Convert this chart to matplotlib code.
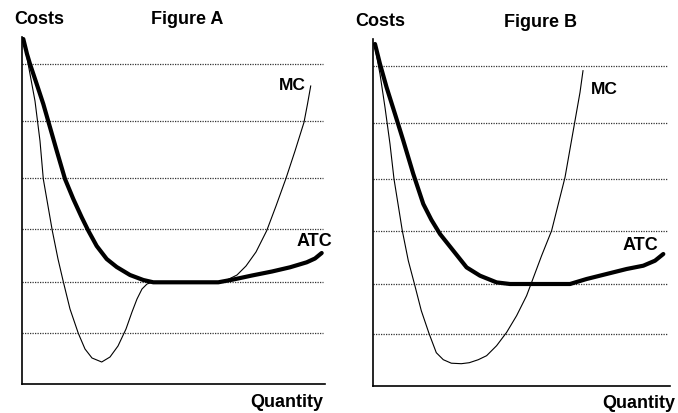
import matplotlib.pyplot as plt

# Figure A (x = quantity, y = cost, arbitrary units)
atc_a_x = [1.3, 5, 8, 14.7, 21.3, 28, 34.7, 43, 51.3, 59.7, 66.3, 74.7, 84.7, 94.7, 108,
           121.3, 131.3, 196.3, 211.3, 230, 250, 268, 284.7, 293, 299.7]
atc_a_y = [345, 330, 320, 300, 280, 256.7, 233.3, 205, 185, 166.7, 153.3, 138, 125, 117, 109,
           104, 101.7, 101.7, 104.5, 108.5, 112.5, 116.7, 121.7, 125.5, 131]
mc_a_x = [3, 8, 13, 18, 21.3, 26, 30.3, 36, 41.3, 48, 56.3, 63, 70, 79.7, 88, 96, 104, 110,
          115, 120, 125, 130, 196.3, 205, 215, 224, 234, 244.7, 254, 264, 273, 282, 285.5,
          288.7]
mc_a_y = [337, 310, 283, 243, 205, 178, 153.3, 125, 102.3, 75, 50.7, 35, 26, 22, 27, 38, 55,
          72, 85, 95, 100, 101.7, 101.7, 104, 109, 118, 132, 153.3, 178, 205.7, 233, 261.7,
          280, 298]

# Figure B
atc_b_x = [1.7, 6.7, 13.3, 21.7, 30, 40, 50, 58, 66.7, 80, 93.3, 106.7, 123.3, 136.7,
           196.7, 213.3, 233.3, 253.3, 270, 281.7, 290]
atc_b_y = [341.7, 321.7, 298.3, 271.7, 245, 211.7, 181.7, 166, 151.7, 135, 118.3, 110, 103.3,
           101.7, 101.7, 106.7, 111.7, 116.7, 120, 125, 131.7]
mc_b_x = [1.7, 6.7, 11.7, 16.7, 20.7, 25, 29, 35, 41, 48, 55.7, 63, 70, 78, 88, 96, 105,
          113.3, 123.3, 133.3, 143.3, 153.3, 158.3, 168.3, 178.3, 185, 191.7, 196.7, 201.7,
          206.7, 209.7]
mc_b_y = [338.3, 311.7, 278.3, 241.7, 206.7, 180, 155, 125, 102.3, 75, 52.3, 33, 26, 22.5,
          22, 23, 26, 30, 40, 53.3, 70, 90, 103.3, 130, 155, 181.7, 208.3, 236.7, 265, 293.3,
          315]

grid_levels = [51.5, 101.7, 155, 206.5, 263, 320]

W, H = 678, 414
fig = plt.figure(figsize=(W / 100, H / 100), dpi=100)
fig.patch.set_facecolor("white")


def panel(rect, xmax, atc_x, atc_y, mc_x, mc_y, mc_lab, atc_lab):
    ax = fig.add_axes(rect)
    ax.set_xlim(0, xmax)
    ax.set_ylim(0, 347)
    for y in grid_levels:
        ax.plot([0, xmax - 2], [y, y], color="#333333", lw=0.9, linestyle=(0, (1, 1)))
    ax.plot(mc_x, mc_y, color="black", lw=0.8)
    ax.plot(atc_x, atc_y, color="black", lw=3.0, solid_capstyle="round",
            solid_joinstyle="round")
    for s in ["top", "right"]:
        ax.spines[s].set_visible(False)
    for s in ["left", "bottom"]:
        ax.spines[s].set_linewidth(1.2)
    ax.set_xticks([])
    ax.set_yticks([])
    ax.patch.set_alpha(0)
    ax.text(mc_lab[0], mc_lab[1], "MC", fontsize=12.5, fontweight="bold",
            ha="center", va="center", family="Liberation Sans", clip_on=False)
    ax.text(atc_lab[0], atc_lab[1], "ATC", fontsize=13, fontweight="bold",
            ha="center", va="center", family="Liberation Sans", clip_on=False)
    return ax


panel([22 / W, 29 / H, 303 / W, 347 / H], 303, atc_a_x, atc_a_y, mc_a_x, mc_a_y,
      (270.7, 299), (292, 143.3))
panel([373.3 / W, 27.3 / H, 297 / W, 347 / H], 297, atc_b_x, atc_b_y, mc_b_x, mc_b_y,
      (230.7, 297), (267, 141))


def label(px, py, s):
    fig.text(px / W, 1 - py / H, s, fontsize=13, fontweight="bold", ha="center",
             va="center", family="Liberation Sans")


label(39, 20, "Costs")
label(187, 20, "Figure A")
label(287, 403, "Quantity")
label(380.7, 21.7, "Costs")
label(540, 22.7, "Figure B")
label(638.3, 403.3, "Quantity")

fig.savefig("out.png", dpi=100)
